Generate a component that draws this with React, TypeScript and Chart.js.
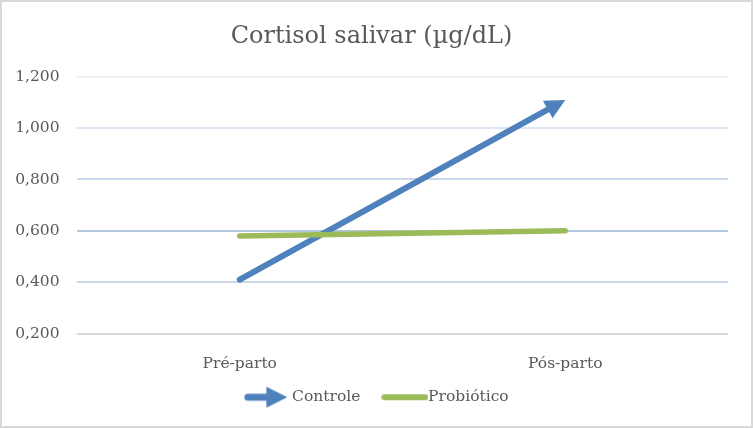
import { useEffect, useRef } from "react";
import { Chart, registerables } from "chart.js";

Chart.register(...registerables);

// values
const categories = ["Pré-parto", "Pós-parto"];
const seriesNames = ["Controle", "Probiótico"];
const controle = [0.41, 1.11];
const probiotico = [0.58, 0.6];
const yMin = 0.2;
const yMax = 1.2;
const yStep = 0.2;
const title = "Cortisol salivar (µg/dL)";

const BLUE = "#4f81bd";
const GREEN = "#9bbb59";
const INK = "#595959";
const FONT = '"DejaVu Serif", serif';
// gridline shades, bottom (axis) to top
const gridShades = ["#d9d9d9", "#c9d8ea", "#b3c6df", "#c9d8ea", "#dde6f2", "#eef3fa"];

function arrowIcon() {
  const c = document.createElement("canvas");
  c.width = 56;
  c.height = 22;
  const g = c.getContext("2d")!;
  g.strokeStyle = BLUE;
  g.fillStyle = BLUE;
  g.lineWidth = 7;
  g.lineCap = "round";
  g.beginPath();
  g.moveTo(16.5, 11);
  g.lineTo(38, 11);
  g.stroke();
  g.beginPath();
  g.moveTo(35, 0.5);
  g.lineTo(56, 11);
  g.lineTo(35, 21.5);
  g.closePath();
  g.fill();
  return c;
}

function barIcon() {
  const c = document.createElement("canvas");
  c.width = 66;
  c.height = 22;
  const g = c.getContext("2d")!;
  g.strokeStyle = GREEN;
  g.lineWidth = 6;
  g.lineCap = "round";
  g.beginPath();
  g.moveTo(22, 11);
  g.lineTo(63, 11);
  g.stroke();
  return c;
}

// arrow head on the end of the first series; the line itself is clipped
// behind the head so its round cap does not poke out of the tip
const HEAD_LEN = 20;
const HEAD_HALF = 10;

function headGeometry(chart: Chart) {
  const pts = chart.getDatasetMeta(0).data;
  if (pts.length < 2) return null;
  const a = pts[pts.length - 2];
  const b = pts[pts.length - 1];
  const ang = Math.atan2(b.y - a.y, b.x - a.x);
  return { x: b.x, y: b.y, dx: Math.cos(ang), dy: Math.sin(ang) };
}

const arrowPlugin = {
  id: "arrowHead",
  beforeDatasetDraw(chart: Chart, args: { index: number }) {
    if (args.index !== 0) return;
    const h = headGeometry(chart);
    if (!h) return;
    const ctx = chart.ctx;
    const bx = h.x - h.dx * (HEAD_LEN - 3);
    const by = h.y - h.dy * (HEAD_LEN - 3);
    const px = -h.dy * 2000;
    const py = h.dx * 2000;
    ctx.save();
    ctx.beginPath();
    ctx.moveTo(bx + px, by + py);
    ctx.lineTo(bx - px, by - py);
    ctx.lineTo(bx - px - h.dx * 4000, by - py - h.dy * 4000);
    ctx.lineTo(bx + px - h.dx * 4000, by + py - h.dy * 4000);
    ctx.closePath();
    ctx.clip();
  },
  afterDatasetDraw(chart: Chart, args: { index: number }) {
    if (args.index !== 0) return;
    const ctx = chart.ctx;
    ctx.restore();
    const h = headGeometry(chart);
    if (!h) return;
    const bx = h.x - h.dx * HEAD_LEN;
    const by = h.y - h.dy * HEAD_LEN;
    ctx.save();
    ctx.fillStyle = BLUE;
    ctx.beginPath();
    ctx.moveTo(h.x, h.y);
    ctx.lineTo(bx - h.dy * HEAD_HALF, by + h.dx * HEAD_HALF);
    ctx.lineTo(bx + h.dy * HEAD_HALF, by - h.dx * HEAD_HALF);
    ctx.closePath();
    ctx.fill();
    ctx.restore();
  },
};

export default function App() {
  const canvasRef = useRef<HTMLCanvasElement>(null);

  useEffect(() => {
    const icons = [arrowIcon(), barIcon()];
    const colors = [BLUE, GREEN];
    const chart = new Chart(canvasRef.current!, {
      type: "line",
      data: {
        labels: categories,
        datasets: [
          {
            label: seriesNames[0],
            data: controle,
            borderColor: BLUE,
            backgroundColor: BLUE,
            borderWidth: 6,
            borderCapStyle: "round",
            pointRadius: 0,
            order: 1,
          },
          {
            label: seriesNames[1],
            data: probiotico,
            borderColor: GREEN,
            backgroundColor: GREEN,
            borderWidth: 5.5,
            borderCapStyle: "round",
            pointRadius: 0,
            order: 0,
          },
        ],
      },
      options: {
        responsive: false,
        animation: false,
        events: [],
        layout: { padding: { left: 13, right: 23, top: 0, bottom: 11 } },
        plugins: {
          title: {
            display: true,
            text: title,
            color: INK,
            font: { family: FONT, size: 24, weight: "normal" },
            padding: { top: 20.5, bottom: 25.5 },
          },
          legend: {
            position: "bottom",
            labels: {
              usePointStyle: true,
              pointStyleWidth: 50,
              padding: 10,
              color: INK,
              font: { family: FONT, size: 15.5 },
              generateLabels: () =>
                seriesNames.map((name, i) => ({
                  text: name,
                  fillStyle: colors[i],
                  strokeStyle: colors[i],
                  fontColor: INK,
                  lineWidth: 0,
                  hidden: false,
                  datasetIndex: i,
                  pointStyle: icons[i],
                })),
            },
          },
          tooltip: { enabled: false },
        },
        scales: {
          x: {
            offset: true,
            grid: { display: false },
            border: { display: false },
            ticks: { color: INK, font: { family: FONT, size: 15.5 }, padding: 13 },
            afterFit: (s: any) => {
              s.height = 46;
            },
          },
          y: {
            min: yMin,
            max: yMax,
            border: { display: false },
            grid: {
              drawTicks: false,
              lineWidth: 2,
              color: (c: any) => gridShades[c.index] ?? gridShades[1],
            },
            ticks: {
              stepSize: yStep,
              padding: 17.5,
              color: INK,
              font: { family: FONT, size: 15.5 },
              callback: (v: any) => Number(v).toFixed(3).replace(".", ","),
            },
            afterFit: (s: any) => {
              s.width = 62;
            },
          },
        },
      },
      plugins: [arrowPlugin],
    });
    return () => chart.destroy();
  }, []);

  return (
    <div
      style={{
        position: "fixed",
        left: 0,
        top: 0,
        width: 753,
        height: 428,
        boxSizing: "border-box",
        border: "2px solid #d9d9d9",
        background: "#fff",
      }}
    >
      <canvas ref={canvasRef} width={749} height={424} style={{ display: "block" }} />
    </div>
  );
}
